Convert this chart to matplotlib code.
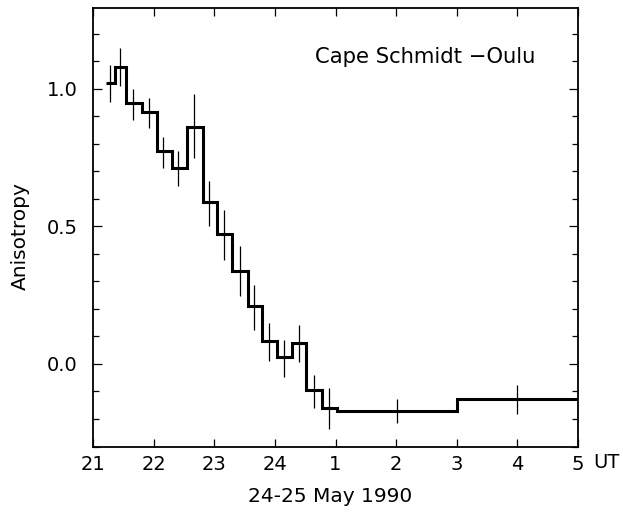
import matplotlib
matplotlib.use("Agg")
import matplotlib.pyplot as plt
from matplotlib.ticker import MultipleLocator

# Hours after 21 UT on 24 May 1990
bin_edges = [0.21, 0.36, 0.54, 0.80, 1.06, 1.30, 1.55, 1.81, 2.05, 2.30, 2.55,
             2.79, 3.03, 3.28, 3.51, 3.77, 4.02, 6.00, 8.00]
anisotropy = [1.021, 1.078, 0.948, 0.917, 0.772, 0.712, 0.861, 0.589, 0.473,
              0.339, 0.211, 0.084, 0.024, 0.075, -0.095, -0.161, -0.170, -0.127]

err_x = [0.28, 0.445, 0.655, 0.924, 1.16, 1.407, 1.666, 1.92, 2.166, 2.425,
         2.66, 2.90, 3.15, 3.40, 3.645, 3.90, 5.02, 7.0]
err_lo = [0.953, 1.008, 0.887, 0.857, 0.712, 0.645, 0.748, 0.502, 0.378, 0.245,
          0.124, 0.011, -0.046, 0.008, -0.161, -0.238, -0.213, -0.183]
err_hi = [1.087, 1.148, 1.000, 0.966, 0.824, 0.772, 0.982, 0.663, 0.560, 0.427,
          0.287, 0.150, 0.087, 0.142, -0.040, -0.088, -0.128, -0.076]

xtick_pos = [0, 1, 2, 3, 4, 5, 6, 7, 8]
xtick_labels = ["21", "22", "23", "24", "1", "2", "3", "4", "5"]
ytick_pos = [0.0, 0.5, 1.0]
ytick_labels = ["0.0", "0.5", "1.0"]

W, H = 623, 516
fig = plt.figure(figsize=(W / 100, H / 100), dpi=100)
ax = fig.add_axes([93 / W, 1 - 446.5 / H, (578 - 93) / W, (446.5 - 7.5) / H])

ax.stairs(anisotropy, bin_edges, baseline=None, color="black", linewidth=2.2)
ax.vlines(err_x, err_lo, err_hi, color="black", linewidth=0.9)

ax.set_xlim(0, 8)
ax.set_ylim(-0.30, 1.295)

ax.set_xticks(xtick_pos)
ax.set_xticklabels(xtick_labels)
ax.set_yticks(ytick_pos)
ax.set_yticklabels(ytick_labels)
ax.yaxis.set_minor_locator(MultipleLocator(0.1))

ax.tick_params(axis="both", which="both", direction="in", top=True, right=True,
               width=0.9, labelsize=14, colors="black")
ax.tick_params(axis="x", which="major", length=5.5, pad=6)
ax.tick_params(axis="y", which="major", length=6.5, pad=11)
ax.tick_params(axis="y", which="minor", length=4.5)
for s in ax.spines.values():
    s.set_linewidth(1.3)

ax.text(222 / 485, 0.888, "Cape Schmidt \u2212Oulu", transform=ax.transAxes,
        fontsize=15.2, ha="left", va="center")

fig.text(606 / W, 1 - 463 / H, "UT", fontsize=14, ha="center", va="center")
fig.text(330 / W, 1 - 497 / H, "24-25 May 1990", fontsize=14.5,
         ha="center", va="center")
fig.text(20 / W, 1 - 236 / H, "Anisotropy", fontsize=14.5, rotation=90,
         ha="center", va="center")

fig.savefig("out.png", dpi=100)
